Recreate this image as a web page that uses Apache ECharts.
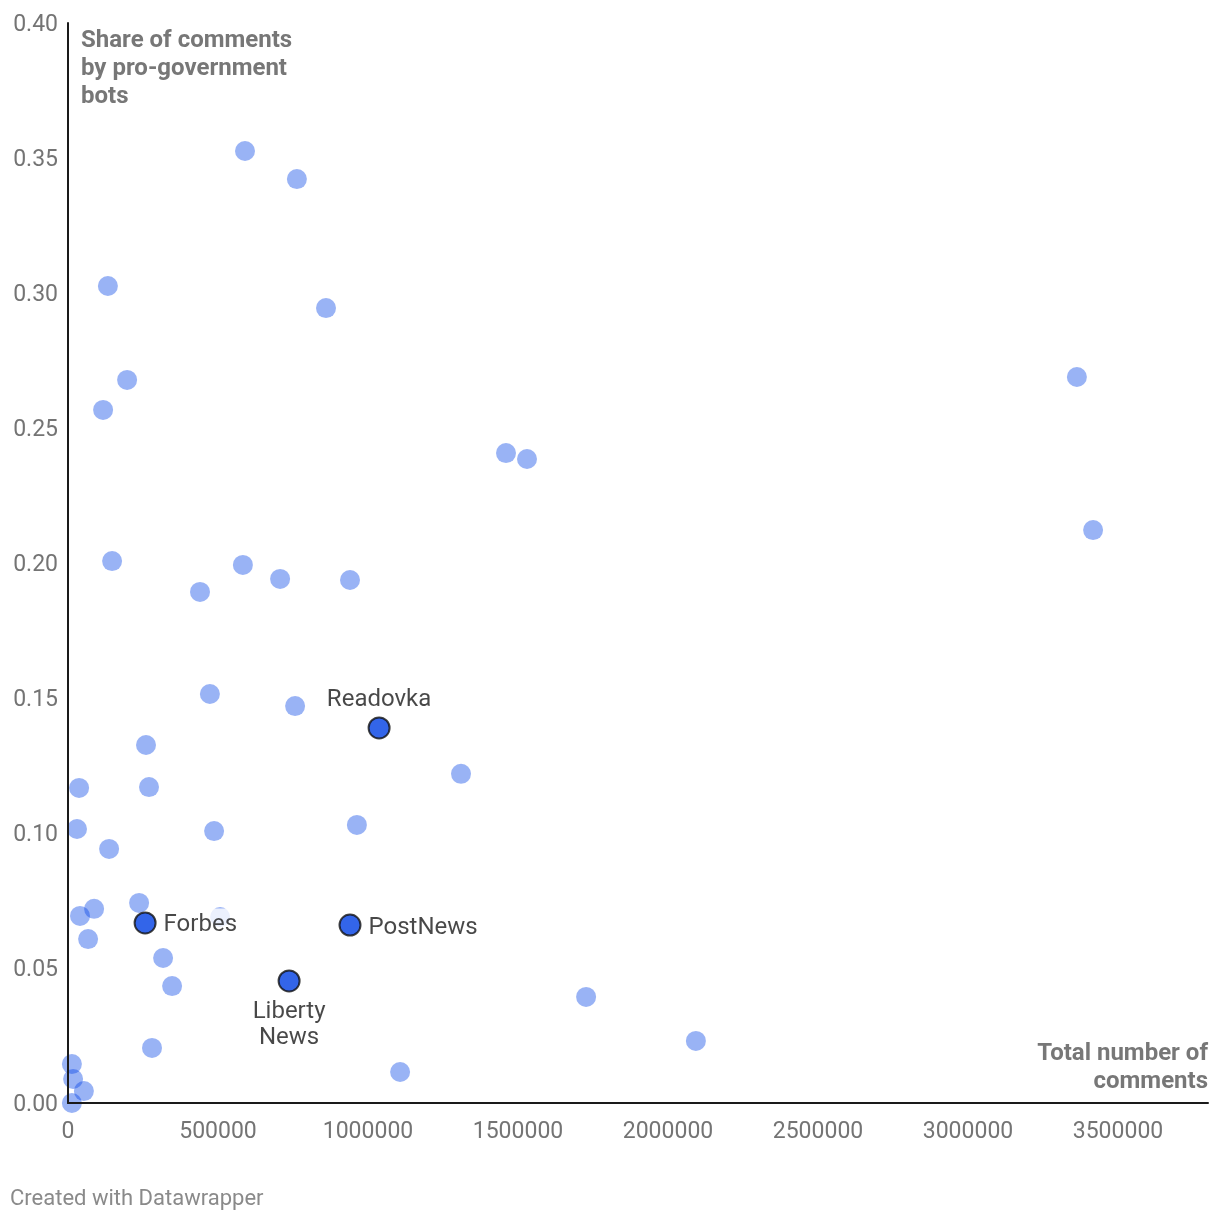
<!DOCTYPE html>
<html>
<head>
<meta charset="utf-8">
<script src="https://cdn.jsdelivr.net/npm/echarts@6/dist/echarts.min.js"></script>
<style>
html,body{margin:0;padding:0;background:#fff;}
#chart{width:1220px;height:1220px;}
</style>
</head>
<body>
<div id="chart"></div>
<script>
// Other outlets (total comments, share of bot comments)
var otherX = [590000, 763000, 133000, 860000, 197000, 117000, 3363000, 1460000, 1530000, 3417000,
  147000, 583000, 707000, 940000, 440000, 473000, 757000, 260000, 1310000, 37000,
  270000, 30000, 487000, 963000, 137000, 237000, 87000, 40000, 507000, 67000,
  317000, 347000, 1727000, 2093000, 280000, 13000, 17000, 53000, 13000, 1107000];
var otherY = [0.3526, 0.3422, 0.3026, 0.2944, 0.2678, 0.2567, 0.2689, 0.2407, 0.2385, 0.2122,
  0.2007, 0.1993, 0.1941, 0.1937, 0.1893, 0.1515, 0.1470, 0.1326, 0.1219, 0.1167,
  0.1170, 0.1015, 0.1007, 0.1030, 0.0941, 0.0741, 0.0719, 0.0693, 0.0689, 0.0607,
  0.0537, 0.0433, 0.0393, 0.0230, 0.0204, 0.0144, 0.0089, 0.0044, 0.0000, 0.0115];

// Highlighted outlets
var highlightNames = ['Readovka', 'Forbes', 'PostNews', 'Liberty\nNews'];
var highlightX = [1037000, 257000, 940000, 737000];
var highlightY = [0.1389, 0.0667, 0.0659, 0.0452];
var highlightLabelPos = ['top', 'right', 'right', 'bottom'];

var xTicks = {min: 0, max: 3800000, interval: 500000};
var yTicks = {min: 0, max: 0.4, interval: 0.05};

var chart = echarts.init(document.getElementById('chart'), null, {renderer: 'canvas'});

var otherData = otherX.map(function (x, i) { return [x, otherY[i]]; });
var labelTweaks = {
  top: {distance: 3, style: 'n'},
  right: {distance: 5, style: 'r'},
  bottom: {distance: 7, style: 'n'}
};
var highlightData = highlightX.map(function (x, i) {
  var p = highlightLabelPos[i];
  var st = labelTweaks[p].style;
  return {
    value: [x, highlightY[i]],
    name: highlightNames[i],
    label: {
      position: p,
      distance: labelTweaks[p].distance,
      formatter: highlightNames[i].split('\n').map(function (s) {
        return '{' + st + '|' + s + '}';
      }).join('\n')
    }
  };
});

var FONT = 'Roboto';
var labelText = {color: '#1a1a1a', fontSize: 24, fontFamily: FONT, lineHeight: 26,
  backgroundColor: '#ffffff'};

chart.setOption({
  animation: false,
  textStyle: {fontFamily: FONT},
  grid: {left: 68, right: 12, top: 23, bottom: 117, containLabel: false},
  xAxis: {
    type: 'value', z: 5,
    min: xTicks.min, max: xTicks.max, interval: xTicks.interval,
    axisLine: {show: true, onZero: false, lineStyle: {color: '#1a1a1a', width: 2}},
    axisTick: {show: false},
    splitLine: {show: false},
    axisLabel: {
      showMaxLabel: false,
      color: '#747474', fontSize: 23, fontFamily: FONT, margin: 18,
      formatter: function (v) { return String(v); }
    }
  },
  yAxis: {
    type: 'value', z: 5,
    min: yTicks.min, max: yTicks.max, interval: yTicks.interval,
    axisLine: {show: true, onZero: false, lineStyle: {color: '#1a1a1a', width: 2}},
    axisTick: {show: false},
    splitLine: {show: false},
    axisLabel: {
      color: '#747474', fontSize: 23, fontFamily: FONT, margin: 10,
      formatter: function (v) { return '{t|' + v.toFixed(2) + '}'; },
      rich: {t: {color: '#747474', fontSize: 23, fontFamily: FONT, padding: [5, 0, 0, 0]}}
    }
  },
  graphic: [
    {
      type: 'text', x: 81, y: 27, z: 10,
      style: {
        text: 'Share of comments\nby pro-government\nbots',
        fill: '#777777', font: 'bold 24px Roboto', lineHeight: 28
      }
    },
    {
      type: 'text', x: 1208, y: 1040, z: 10,
      style: {
        text: 'Total number of\ncomments', align: 'right',
        fill: '#777777', font: 'bold 24px Roboto', lineHeight: 28
      }
    },
    {
      type: 'text', x: 10, y: 1188, z: 10,
      style: {
        text: 'Created with Datawrapper',
        fill: '#8a8a8a', font: '22px Roboto'
      }
    }
  ],
  series: [
    {
      name: 'Other outlets',
      type: 'scatter',
      symbolSize: 20,
      data: otherData,
      itemStyle: {color: 'rgba(0,64,230,0.5)'},
      z: 2
    },
    {
      name: 'Highlighted outlets',
      type: 'scatter',
      symbolSize: 21,
      data: highlightData,
      itemStyle: {color: '#003ee4', borderColor: '#111111', borderWidth: 2},
      label: {
        show: true,
        color: '#1a1a1a', fontSize: 24, fontFamily: FONT, lineHeight: 26,
        rich: {
          n: Object.assign({padding: [1, 2]}, labelText),
          r: Object.assign({padding: [5, 2, 0, 2], lineHeight: 26}, labelText)
        }
      },
      z: 3
    }
  ]
});
</script>
</body>
</html>
